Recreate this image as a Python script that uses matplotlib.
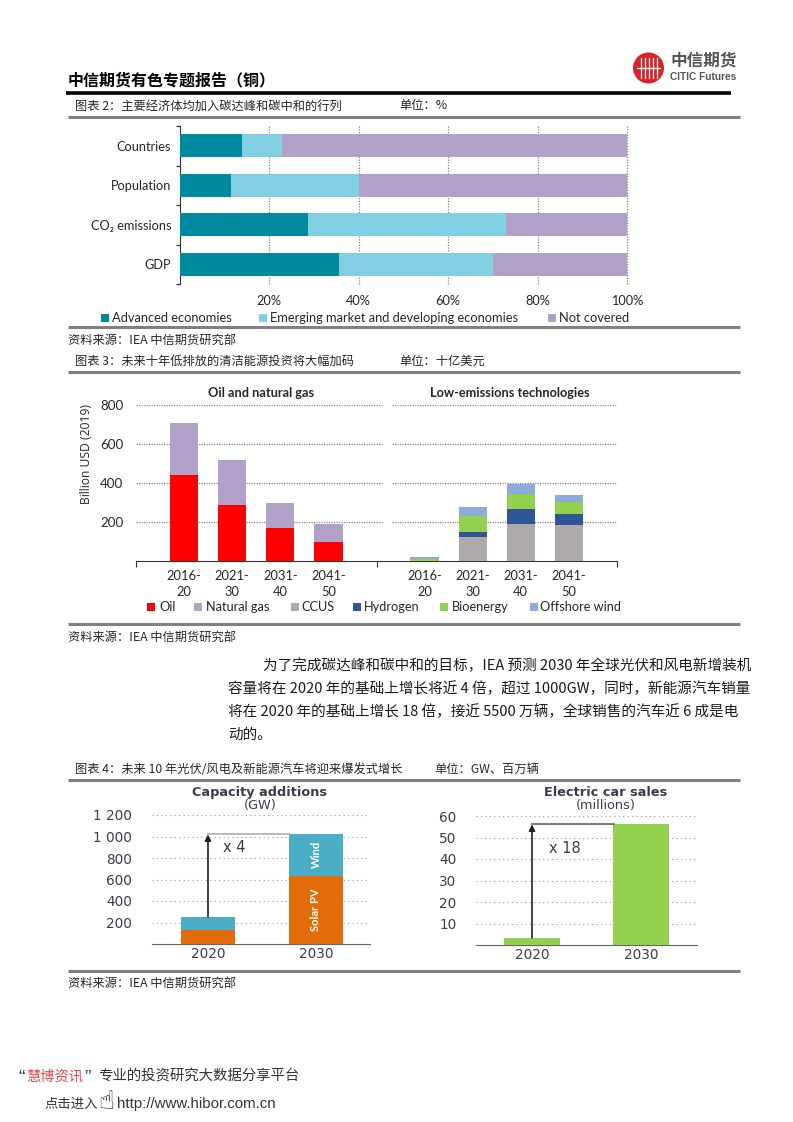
import matplotlib
matplotlib.use("Agg")
import matplotlib.pyplot as plt
from matplotlib.patches import Rectangle, Circle
import numpy as np

W, H = 793, 1122
CJK = ['Noto Sans CJK SC', 'DejaVu Sans']
LAT = ['Lato', 'DejaVu Sans']
DJ = ['DejaVu Sans']
plt.rcParams['font.family'] = CJK
plt.rcParams['axes.unicode_minus'] = False

# ---- chart 2 data (segments, %)
c2_categories = ['Countries', 'Population', 'CO₂ emissions', 'GDP']
c2_advanced = [14, 11.5, 28.7, 35.6]
c2_emerging = [9, 28.5, 44.3, 34.4]
c2_not_covered = [77, 60, 27, 30]
c2_ticks = [20, 40, 60, 80, 100]
c2_series = ['Advanced economies', 'Emerging market and developing economies', 'Not covered']

# ---- chart 3 data (billion USD)
c3_periods = ['2016-\n20', '2021-\n30', '2031-\n40', '2041-\n50']
c3_oil = [441, 287, 169, 97]
c3_gas = [267, 231, 128, 91]
c3_ccus = [2, 125, 191, 185]
c3_hydrogen = [0, 24, 76, 56]
c3_bio = [8, 80, 77, 63]
c3_wind = [10, 46, 51, 33]
c3_yticks = [200, 400, 600, 800]
c3_series = ['Oil', 'Natural gas', 'CCUS', 'Hydrogen', 'Bioenergy', 'Offshore wind']

# ---- chart 4 data
c4_years = ['2020', '2030']
c4_solar = [134, 630]
c4_onwind = [118, 395]
c4_cap_ticks = [200, 400, 600, 800, 1000, 1200]
c4_ev = [3.3, 56.3]
c4_ev_ticks = [10, 20, 30, 40, 50, 60]

TEAL, LBLUE, PURPLE = '#008aa0', '#82cfe3', '#b1a0c7'
RED, GRAY, NAVY, GREEN, SKY = '#ff0000', '#aeaaaa', '#2f5597', '#92d050', '#8eaadb'
ORANGE, WINDC = '#e36c0a', '#4bacc6'
RULE = '#808080'
TXT = '#262626'
LBL = 8.8

fig = plt.figure(figsize=(W / 100, H / 100), dpi=100, facecolor='white')
bg = fig.add_axes([0, 0, 1, 1], zorder=0)
bg.set_xlim(0, W); bg.set_ylim(H, 0); bg.axis('off')
fg = fig.add_axes([0, 0, 1, 1], zorder=10)
fg.set_xlim(0, W); fg.set_ylim(H, 0); fg.axis('off'); fg.patch.set_alpha(0)


def box(x0, y0, x1, y1):
    a = fig.add_axes([x0 / W, 1 - y1 / H, (x1 - x0) / W, (y1 - y0) / H], zorder=5)
    a.patch.set_alpha(0)
    return a


def txt(x, y, s, size=8, color=TXT, ha='left', va='center', family=CJK, **k):
    return fg.text(x, y, s, fontsize=size, color=color, ha=ha, va=va, family=family, **k)


def rule(y, x0=68, x1=739.5, lw=2.2, c=RULE):
    bg.plot([x0, x1], [y, y], color=c, lw=lw, solid_capstyle='butt')


def swatch(x, y, s, c):
    fg.add_patch(Rectangle((x, y - s / 2), s, s, fc=c, ec='none'))


# ---------- header
txt(68, 80, '中信期货有色专题报告（铜）', size=11.5, color='black', weight='bold')
rule(93, 66, 731, lw=2.6, c='black')
fg.add_patch(Circle((648.5, 68), 15.5, fc='#d8232a', ec='none'))
for dx in (-8, -4, 0, 4, 8):
    fg.plot([648.5 + dx, 648.5 + dx], [58, 78], color='white', lw=0.9)
fg.plot([637, 660], [68, 68], color='white', lw=0.9)
txt(670, 60, '中信期货', size=12, color='#555555', weight='bold')
txt(670, 77, 'CITIC Futures', size=7.3, color='#555555', family=['Liberation Sans'], weight='bold')

# ---------- chart 2
txt(75, 106, '图表 2：主要经济体均加入碳达峰和碳中和的行列', size=LBL)
txt(399, 105, '单位：%', size=LBL)
rule(116.5)
ax = box(179.5, 126, 627, 284)
y = np.arange(len(c2_categories))
left = np.zeros(len(y))
for vals, c in zip((c2_advanced, c2_emerging, c2_not_covered), (TEAL, LBLUE, PURPLE)):
    ax.barh(y, vals, left=left, height=0.57, color=c, zorder=3)
    left += np.array(vals)
ax.set_xlim(0, 100); ax.set_ylim(3.5, -0.5)
ax.set_yticks(y, c2_categories, family=LAT, fontsize=9.2, color=TXT)
ax.set_yticks(np.arange(-0.5, 4), minor=True)
ax.tick_params(axis='y', which='major', length=0, pad=6)
ax.tick_params(axis='y', which='minor', length=3, direction='out', color='#333333', width=0.9)
ax.set_xticks(c2_ticks, [f'{v}%' for v in c2_ticks], family=LAT, fontsize=9.2, color=TXT)
ax.tick_params(axis='x', length=0, pad=8)
ax.xaxis.grid(True, ls=(0, (1, 1.2)), color='#808080', lw=0.9, zorder=1, clip_on=False)
for s in ('top', 'right', 'bottom'):
    ax.spines[s].set_visible(False)
ax.spines['left'].set_color('#333333')
for sx, tx, name, c in zip((101, 259, 548), (112, 270, 559), c2_series, (TEAL, LBLUE, PURPLE)):
    swatch(sx, 318, 8, c)
    txt(tx, 317.5, name, size=9.3, family=LAT)
fg.add_patch(Rectangle((60, 322.5), 690, 3, fc='white', ec='none'))
rule(327)
txt(68, 340, '资料来源：IEA 中信期货研究部', size=LBL)

# ---------- chart 3
txt(75, 361, '图表 3：未来十年低排放的清洁能源投资将大幅加码', size=LBL)
txt(399, 361, '单位：十亿美元', size=LBL)
rule(372)
ax = box(136, 405, 617, 561)
ax.set_xlim(0, 10); ax.set_ylim(0, 800)
xl = np.arange(1, 5); xr = np.arange(6, 10)
for v in c3_yticks:
    ax.hlines(v, 0, 5.13, color='#808080', ls=(0, (1, 1.0)), lw=0.9, zorder=1)
    ax.hlines(v, 5.33, 10, color='#808080', ls=(0, (1, 1.0)), lw=0.9, zorder=1)
bw = 0.59
ax.bar(xl, c3_oil, bw, color=RED, zorder=3)
ax.bar(xl, c3_gas, bw, bottom=c3_oil, color=PURPLE, zorder=3)
b = np.zeros(4)
for vals, c in zip((c3_ccus, c3_hydrogen, c3_bio, c3_wind), (GRAY, NAVY, GREEN, SKY)):
    ax.bar(xr, vals, bw, bottom=b, color=c, zorder=3)
    b += np.array(vals)
ax.set_yticks(c3_yticks, [str(v) for v in c3_yticks], family=LAT, fontsize=9.6, color=TXT)
ax.tick_params(axis='y', length=0, pad=9)
ax.set_xticks([0, 5, 10], ['', '', ''])
ax.tick_params(axis='x', which='major', length=4, direction='out', color='#333333')
ax.set_xticks(np.r_[xl, xr], c3_periods * 2, minor=True, family=LAT, fontsize=9.3, color=TXT, linespacing=1.35)
ax.tick_params(axis='x', which='minor', length=0, pad=6.5)
for s in ('top', 'right', 'left'):
    ax.spines[s].set_visible(False)
ax.spines['bottom'].set_color('#333333')
txt(86, 454, 'Billion USD (2019)', size=8.7, rotation=90, ha='center', family=['Open Sans'])
txt(261, 393, 'Oil and natural gas', size=9.2, ha='center', family=LAT, weight='bold')
txt(510, 393, 'Low-emissions technologies', size=9.2, ha='center', family=LAT, weight='bold')
for sx, tx, n, c in zip((147, 194, 291, 353, 440, 530), (159, 205.5, 301, 363.5, 451.5, 540),
                        c3_series, (RED, PURPLE, GRAY, NAVY, GREEN, SKY)):
    swatch(sx, 607, 8, c)
    txt(tx, 606.5, n, size=9.2, family=LAT)
rule(624)
txt(68, 637, '资料来源：IEA 中信期货研究部', size=LBL)

# ---------- body
body = [(263, 666, '为了完成碳达峰和碳中和的目标，IEA 预测 2030 年全球光伏和风电新增装机'),
        (228, 689, '容量将在 2020 年的基础上增长将近 4 倍，超过 1000GW，同时，新能源汽车销量'),
        (228, 712, '将在 2020 年的基础上增长 18 倍，接近 5500 万辆，全球销售的汽车近 6 成是电'),
        (228, 735, '动的。')]
for x, yy, s in body:
    txt(x, yy, s, size=10.5, color='#1a1a1a')

# ---------- chart 4
txt(75, 769, '图表 4：未来 10 年光伏/风电及新能源汽车将迎来爆发式增长', size=LBL)
txt(434, 769, '单位：GW、百万辆', size=LBL)
rule(780)
DK = '#3b3b4f'
TK = 9.8
# left panel
ax = box(151.5, 815, 370, 944)
xp = np.arange(2)
ax.bar(xp, c4_solar, 0.505, color=ORANGE, zorder=3)
ax.bar(xp, c4_onwind, 0.505, bottom=c4_solar, color=WINDC, zorder=3)
ax.set_xlim(-0.523, 1.5); ax.set_ylim(0, 1200)
ax.set_yticks(c4_cap_ticks, [f'{v:,}'.replace(',', ' ') for v in c4_cap_ticks],
              family=DJ, fontsize=TK, color=DK)
ax.tick_params(axis='y', length=0, pad=14)
ax.set_xticks(xp, c4_years, family=DJ, fontsize=TK, color=DK)
ax.tick_params(axis='x', length=0, pad=2.5)
ax.yaxis.grid(True, ls=(0, (1, 3)), color='#999999', lw=0.8, zorder=1)
for s in ('top', 'right', 'left'):
    ax.spines[s].set_visible(False)
ax.spines['bottom'].set_color('#666666')
tot = [a + b_ for a, b_ in zip(c4_solar, c4_onwind)]
ax.plot([0, 0.75], [tot[1], tot[1]], color='#bbbbbb', lw=1.4, zorder=4)
ax.annotate('', xy=(0, tot[1] - 5), xytext=(0, tot[0]),
            arrowprops=dict(arrowstyle='-|>', color='#222222', lw=1.2, mutation_scale=9,
                            shrinkA=0, shrinkB=0), zorder=5)
ax.text(0.24, 900, 'x 4', fontsize=10.5, family=DJ, color=DK, ha='center', va='center')
ax.text(1, 830, 'Wind', fontsize=8, rotation=90, color='white', ha='center', va='center', family=LAT, weight='bold', zorder=6)
ax.text(1, 320, 'Solar PV', fontsize=8, rotation=90, color='white', ha='center', va='center', family=LAT, weight='bold', zorder=6)
txt(260, 792.5, 'Capacity additions', size=9.3, ha='center', family=DJ, color=DK, weight='bold')
txt(260, 805, '(GW)', size=9.3, ha='center', family=DJ, color=DK)
# right panel
ax = box(476, 816, 697, 945)
ax.bar(xp, c4_ev, 0.505, color=GREEN, zorder=3)
ax.set_xlim(-0.514, 1.514); ax.set_ylim(0, 60)
ax.set_yticks(c4_ev_ticks, [str(v) for v in c4_ev_ticks], family=DJ, fontsize=TK, color=DK)
ax.tick_params(axis='y', length=0, pad=14)
ax.set_xticks(xp, c4_years, family=DJ, fontsize=TK, color=DK)
ax.tick_params(axis='x', length=0, pad=2.5)
ax.yaxis.grid(True, ls=(0, (1, 3)), color='#999999', lw=0.8, zorder=1)
for s in ('top', 'right', 'left'):
    ax.spines[s].set_visible(False)
ax.spines['bottom'].set_color('#666666')
ax.plot([0, 0.75], [c4_ev[1], c4_ev[1]], color='#555555', lw=1.1, zorder=4)
ax.annotate('', xy=(0, c4_ev[1] - 0.2), xytext=(0, c4_ev[0]),
            arrowprops=dict(arrowstyle='-|>', color='#222222', lw=1.2, mutation_scale=9,
                            shrinkA=0, shrinkB=0), zorder=5)
ax.text(0.30, 45, 'x 18', fontsize=10.5, family=DJ, color=DK, ha='center', va='center')
txt(605.5, 792.5, 'Electric car sales', size=9.3, ha='center', family=DJ, color=DK, weight='bold')
txt(605.5, 805, '(millions)', size=9.3, ha='center', family=DJ, color=DK)
rule(971)
txt(68, 983, '资料来源：IEA 中信期货研究部', size=LBL)

# ---------- footer
LS = ['Liberation Sans']
txt(18, 1078, '“', size=14, color='#333333', family=LS)
txt(26, 1076.5, '慧博资讯', size=10.25, color='#e8484b')
txt(84, 1078, '”', size=14, color='#333333', family=LS)
txt(98, 1076.5, '专业的投资研究大数据分享平台', size=10.4, color='#333333')
txt(44, 1104, '点击进入', size=9.6, color='#333333')
txt(106, 1102, '☝', size=19, color='#222222', ha='center', family=DJ)
txt(117, 1104, 'http://www.hibor.com.cn', size=10.8, color='#333333', family=LS)

fig.savefig('out.png', dpi=100, facecolor='white')
